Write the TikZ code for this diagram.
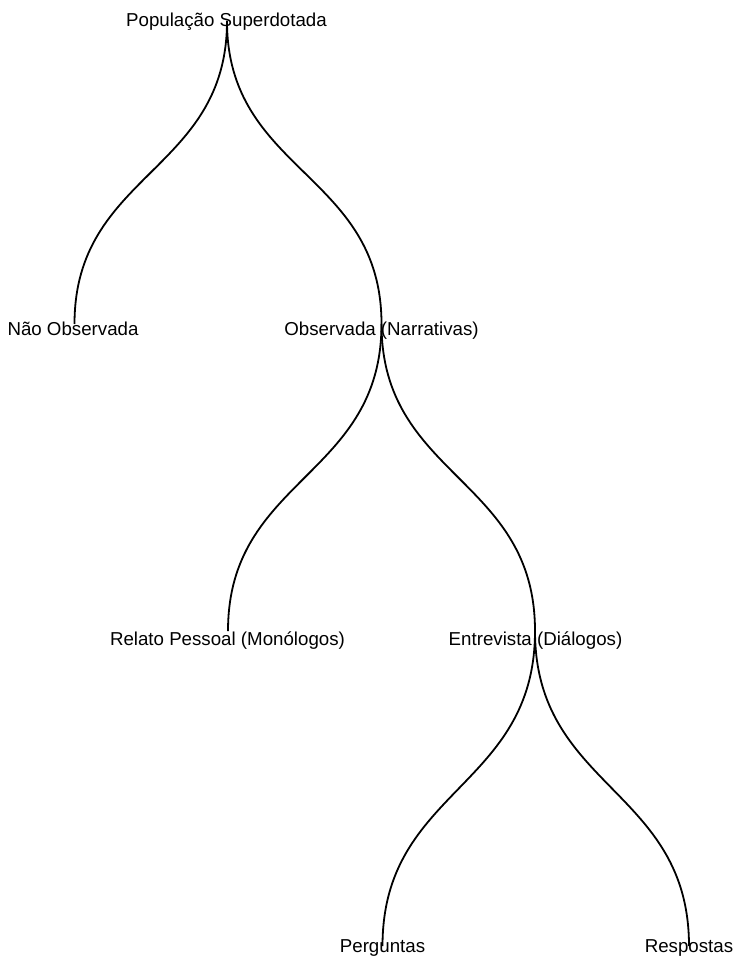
\documentclass[tikz,border=0pt]{standalone}
\usepackage{fontspec}
\setmainfont{Liberation Sans}
\usetikzlibrary{calc}
\begin{document}
\begin{tikzpicture}[x=1pt,y=-1pt,
  lbl/.style={anchor=base, inner sep=0pt, font=\fontsize{18.7}{22}\selectfont},
  link/.style={line width=1.8pt, black}]
\useasboundingbox (0,0) rectangle (735,957);
% link points
\coordinate (r) at (227,21);
\coordinate (a) at (74.5,324);
\coordinate (b) at (381.5,324);
\coordinate (c) at (228,631);
\coordinate (d) at (535,631);
\coordinate (e) at (382.5,946);
\coordinate (f) at (689,946);
% labels
\node[lbl] (rt) at (226.5,27) {População Superdotada};
\node[lbl] (at) at (73,335.5) {Não Observada};
\node[lbl] (bt) at (381.5,335.5) {Observada (Narrativas)};
\node[lbl] (ct) at (227.5,645) {Relato Pessoal (Monólogos)};
\node[lbl] (dt) at (535.5,645) {Entrevista (Diálogos)};
\node[lbl] (et) at (382.5,952.5) {Perguntas};
\node[lbl] (ft) at (689,952.5) {Respostas};
% links
\foreach \p/\q in {r/a, r/b, b/c, b/d, d/e, d/f}{
  \draw[link] (\p) .. controls ($(\p)!0.5!(\p |- \q)$) and ($(\q)!0.5!(\q |- \p)$) .. (\q);
}
\end{tikzpicture}
\end{document}
